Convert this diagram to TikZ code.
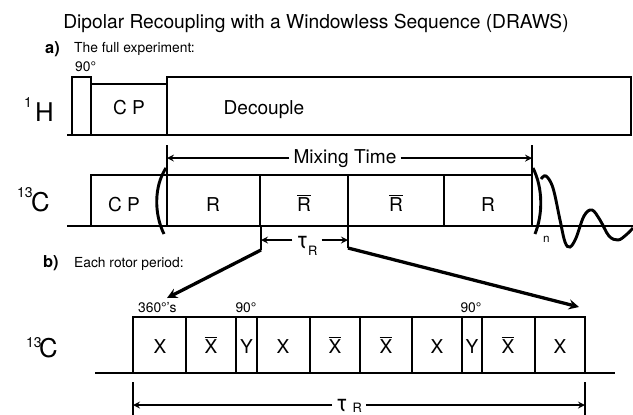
\documentclass[tikz,border=0pt]{standalone}
\usepackage{fontspec}
\setmainfont{TeX Gyre Heros}
\newcommand{\fsz}[1]{\fontsize{#1}{#1}\selectfont}
\newcommand{\barra}[1]{$\overline{\mbox{#1}}$}

\begin{document}
\begin{tikzpicture}[>=stealth, x=0.03cm, y=-0.03cm,
    linea/.style={line width=2.5pt},
    quota/.style={line width=1.6pt},
    freccia/.style={line width=2.8pt, ->},
    etich/.style={font=\fsz{16.3}, anchor=base},
    piccolo/.style={font=\fsz{11.8}, anchor=base west},
    nucleo/.style={font=\fsz{22}, anchor=base west},
    apice/.style={font=\fsz{12}, anchor=base west},
    parte/.style={font=\fsz{14}\bfseries, anchor=base west}]
    \useasboundingbox (0,0) rectangle (633,415);

    % Titolo
    \node[font=\fsz{16.4}, anchor=base] (titolo) at (316,28) {Dipolar Recoupling with a Windowless Sequence (DRAWS)};
    \node[parte] (parta) at (41,53) {a)};
    \node[piccolo] (fullexp) at (70,52) {The full experiment:};

    % Canale 1H
    \node[apice] (h1) at (20,107) {1};
    \node[nucleo] (hH) at (31,121) {H};
    \draw[linea] (67,135) -- (631,135);
    \draw[linea] (72,135) rectangle (91,77);
    \draw[linea] (91,135) rectangle (167,84);
    \draw[linea] (167,135) rectangle (631,77);
    \node[piccolo] (p90) at (71,71) {90°};
    \node[etich] (cpH) at (129,114) {C P};
    \node[etich] (dec) at (264,114) {Decouple};

    % Canale 13C (esperimento)
    \node[apice] (c13a) at (13,197) {13};
    \node[nucleo] (cCa) at (27,211) {C};
    \draw[linea] (67,226) -- (633,226);
    \draw[linea] (91,226) rectangle (167,175);
    \draw[linea] (167,226) rectangle (260,175);
    \draw[linea] (260,226) rectangle (348,175);
    \draw[linea] (348,226) rectangle (444,175);
    \draw[linea] (444,226) rectangle (532,175);
    \node[etich] (cpC) at (124,211) {C P};
    \node[etich] (r1) at (213,211) {R};
    \node[etich] (r2) at (304,211) {\barra{R}};
    \node[etich] (r3) at (396,211) {\barra{R}};
    \node[etich] (r4) at (488,211) {R};
    % Parentesi
    \draw[linea] (166,168) .. controls (154,186) and (154,214) .. (164,234);
    \draw[linea] (533,168) .. controls (543,188) and (543,214) .. (535,234);
    \node[font=\fsz{10}, anchor=base west] (nrip) at (539,242) {n};
    % FID
    \draw[linea] plot[smooth, tension=0.6] coordinates {(541,179) (546,176) (553,188) (560,220) (565,242) (570,247) (576,238) (584,216) (592,210) (600,220) (609,236) (618,240) (626,235) (633,228)};

    % Tempo di mescolamento
    \coordinate (mL) at (167,157);
    \coordinate (mR) at (532,157);
    \draw[quota] (167,145) -- (167,175);
    \draw[quota] (532,145) -- (532,175);
    \node[etich] (mix) at (345,163) {Mixing Time};
    \draw[quota,->] (mix.west) -- (mL |- mix.west);
    \draw[quota,->] (mix.east) -- (mR |- mix.east);

    % Periodo del rotore
    \coordinate (tL) at (261,250);
    \coordinate (tR) at (348,248);
    \draw[quota] (261,226) -- (tL);
    \draw[quota] (348,226) -- (tR);
    \node[anchor=base] (tauA) at (307,248) {{\fsz{20}τ}{\fsz{11}\raisebox{-6pt}{R}}};
    \draw[quota,->] (tauA.west |- 0,240) -- (tL |- 0,240);
    \draw[quota,->] (tauA.east |- 0,240) -- (tR |- 0,240);

    % Frecce verso il dettaglio
    \coordinate (dL) at (167,298);
    \coordinate (dR) at (579,307);
    \draw[freccia] (tL) -- (dL);
    \draw[freccia] (tR) -- (dR);

    % b) Ogni periodo del rotore
    \node[parte] (partb) at (39,267) {b)};
    \node[piccolo] (rotor) at (70,267) {Each rotor period:};
    \node[apice] (c13b) at (22,347) {13};
    \node[nucleo] (cCb) at (35,357) {C};
    \draw[linea] (95,373) -- (615,373);
    \draw[linea] (133,373) rectangle (186,317);
    \draw[linea] (186,373) rectangle (236,317);
    \draw[linea] (236,373) rectangle (257,317);
    \draw[linea] (257,373) rectangle (310,317);
    \draw[linea] (310,373) rectangle (360,317);
    \draw[linea] (360,373) rectangle (412,317);
    \draw[linea] (412,373) rectangle (462,317);
    \draw[linea] (462,373) rectangle (482,317);
    \draw[linea] (482,373) rectangle (535,317);
    \draw[linea] (535,373) rectangle (585,317);
    \node[etich] (x1) at (160,353) {X};
    \node[etich] (x2) at (211,353) {\barra{X}};
    \node[etich] (y1) at (246.5,353) {Y};
    \node[etich] (x3) at (283,353) {X};
    \node[etich] (x4) at (335,353) {\barra{X}};
    \node[etich] (x5) at (386,353) {\barra{X}};
    \node[etich] (x6) at (437,353) {X};
    \node[etich] (y2) at (472,353) {Y};
    \node[etich] (x7) at (508,353) {\barra{X}};
    \node[etich] (x8) at (560,353) {X};
    \node[piccolo] (p360) at (134,312) {360°'s};
    \node[piccolo, anchor=base] (p90a) at (246,312) {90°};
    \node[piccolo, anchor=base] (p90b) at (471,312) {90°};

    % tau_R in basso
    \coordinate (bL) at (133,405);
    \coordinate (bR) at (585,405);
    \draw[quota] (133,382) -- (133,420);
    \draw[quota] (585,382) -- (585,420);
    \node[anchor=base] (tauB) at (349,411) {{\fsz{20}τ}\hspace{4pt}{\fsz{11}\raisebox{-1pt}{R}}};
    \draw[quota,->] (tauB.west |- bL) -- (bL);
    \draw[quota,->] (tauB.east |- bR) -- (bR);
\end{tikzpicture}
\end{document}
